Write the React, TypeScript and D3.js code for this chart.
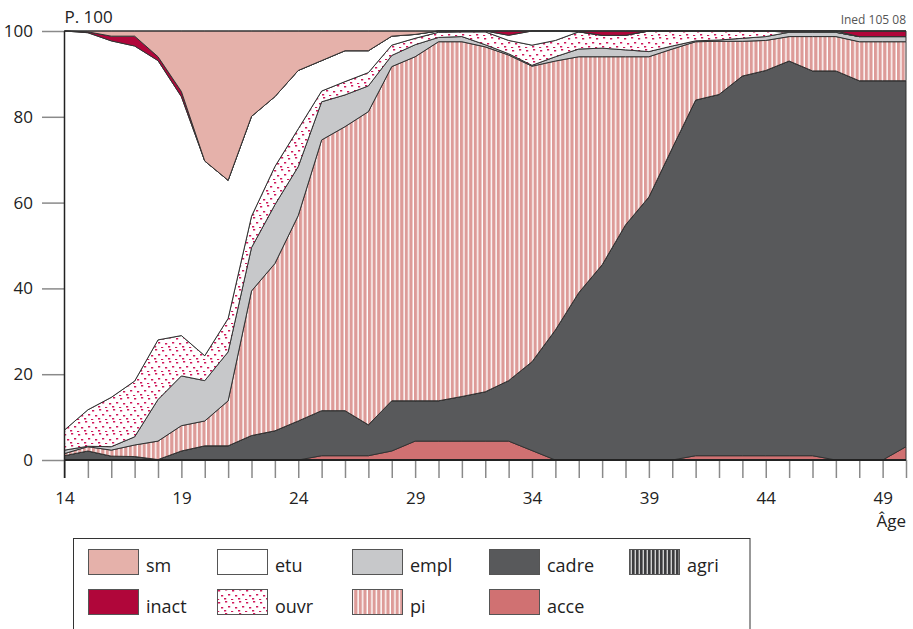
import React, { useEffect, useRef } from 'react';
import * as d3 from 'd3';

// ages 14..50, one point per year
const ages = [14, 15, 16, 17, 18, 19, 20, 21, 22, 23, 24, 25, 26, 27, 28, 29, 30, 31, 32,
  33, 34, 35, 36, 37, 38, 39, 40, 41, 42, 43, 44, 45, 46, 47, 48, 49, 50];

// shares (%) per age, stacked bottom -> top in this order
const acce = [0, 0, 0, 0, 0, 0, 0, 0, 0, 0, 0, 1.0, 1.0, 1.0, 2.1, 4.4, 4.4, 4.4, 4.4,
  4.4, 2.2, 0, 0, 0, 0, 0, 0, 1.0, 1.0, 1.0, 1.0, 1.0, 1.0, 0, 0, 0, 3.1];
const cadre = [1.0, 2.1, 0.9, 0.8, 0.1, 2.1, 3.3, 3.3, 5.7, 6.8, 9.1, 10.5, 10.5, 7.2, 11.7, 9.4, 9.4, 10.4, 11.5,
  14.1, 20.7, 30.3, 39.0, 45.5, 54.8, 61.3, 72.7, 82.9, 84.2, 88.5, 89.8, 92.0, 89.7, 90.7, 88.4, 88.4, 85.3];
const agri = [0, 0, 0, 0, 0, 0, 0, 0, 0, 0, 0, 0, 0, 0, 0, 0, 0, 0, 0,
  0, 0, 0, 0, 0, 0, 0, 0, 0, 0, 0, 0, 0, 0, 0, 0, 0, 0];
const pi = [0.5, 1.0, 1.4, 2.7, 4.3, 5.9, 5.8, 10.5, 33.7, 39.0, 47.9, 63.1, 66.2, 73.0, 77.9, 80.2, 83.7, 82.7, 80.4,
  75.9, 68.9, 62.7, 55.0, 48.5, 39.2, 32.7, 23.1, 13.6, 12.4, 8.1, 7.0, 5.7, 8.0, 8.0, 9.1, 9.1, 9.1];
const empl = [0.8, 0.1, 0.8, 1.9, 9.7, 11.6, 9.4, 11.4, 10.1, 13.7, 11.4, 8.9, 7.4, 6.0, 2.6, 2.8, 1.0, 1.2, 0.5,
  0.3, 0.2, 1.0, 1.8, 2.0, 1.6, 1.2, 0.7, 0.2, 0.3, 0.7, 0.9, 1.0, 1.0, 1.0, 1.2, 1.2, 1.2];
const ouvr = [4.7, 8.5, 11.5, 13.0, 13.9, 9.4, 5.8, 7.8, 7.3, 8.9, 8.8, 2.5, 3.1, 3.1, 2.4, 1.5, 1.2, 1.1, 3.0,
  3.1, 4.7, 3.8, 4.0, 3.0, 3.4, 4.8, 3.5, 2.3, 2.1, 1.7, 1.3, 0, 0, 0, 0, 0, 0];
const etu = [93.0, 87.9, 83.1, 78.1, 65.1, 55.7, 45.4, 32.2, 23.3, 16.3, 13.6, 7.1, 7.2, 5.1, 2.1, 0.9, 0.3, 0.2, 0.2,
  1.2, 3.3, 2.2, 0, 0, 0, 0, 0, 0, 0, 0, 0, 0.3, 0.3, 0.3, 0, 0, 0];
const inact = [0, 0.2, 1.1, 2.3, 0.9, 1.2, 0, 0, 0, 0, 0, 0, 0, 0, 0, 0, 0, 0, 0,
  1.0, 0, 0, 0.2, 1.0, 1.0, 0, 0, 0, 0, 0, 0, 0, 0, 0, 1.3, 1.3, 1.3];
const sm = [0, 0.2, 1.2, 1.2, 6.0, 14.1, 30.3, 34.8, 19.9, 15.3, 9.2, 6.9, 4.6, 4.6, 1.2, 0.8, 0, 0, 0,
  0, 0, 0, 0, 0, 0, 0, 0, 0, 0, 0, 0, 0, 0, 0, 0, 0, 0];

const keys = ['acce', 'cadre', 'agri', 'pi', 'empl', 'ouvr', 'etu', 'inact', 'sm'];
const seriesValues = { acce, cadre, agri, pi, empl, ouvr, etu, inact, sm };

const xTickLabels = [14, 19, 24, 29, 34, 39, 44, 49];
const yTicks = [0, 20, 40, 60, 80, 100];

// legend layout: two rows
const legendRow1 = ['sm', 'etu', 'empl', 'cadre', 'agri'];
const legendRow2 = ['inact', 'ouvr', 'pi', 'acce'];

const fills = {
  acce: '#d07172',
  cadre: '#58595b',
  agri: 'url(#pat-agri)',
  pi: 'url(#pat-pi)',
  empl: '#c7c8ca',
  ouvr: 'url(#pat-ouvr)',
  etu: '#ffffff',
  inact: '#b0063a',
  sm: '#e5b1aa',
};

const FONT = '"Open Sans", "Noto Sans", sans-serif';

const App = () => {
  const svgRef = useRef(null);

  useEffect(() => {
    const svg = d3.select(svgRef.current);
    svg.selectAll('*').remove();

    const x = d3.scaleLinear().domain([14, 50]).range([64.5, 906]);
    const y = d3.scaleLinear().domain([0, 100]).range([460, 31]);

    // patterns
    const defs = svg.append('defs');
    const pPi = defs.append('pattern').attr('id', 'pat-pi')
      .attr('patternUnits', 'userSpaceOnUse').attr('width', 4.6).attr('height', 10);
    pPi.append('rect').attr('width', 4.6).attr('height', 10).attr('fill', '#fff');
    pPi.append('rect').attr('width', 3.2).attr('height', 10).attr('fill', '#dd9b98');

    const pAgri = defs.append('pattern').attr('id', 'pat-agri')
      .attr('patternUnits', 'userSpaceOnUse').attr('width', 4).attr('height', 10);
    pAgri.append('rect').attr('width', 4).attr('height', 10).attr('fill', '#d0d0d0');
    pAgri.append('rect').attr('width', 2.6).attr('height', 10).attr('fill', '#3c3c3e');

    const pOuvr = defs.append('pattern').attr('id', 'pat-ouvr')
      .attr('patternUnits', 'userSpaceOnUse').attr('width', 14).attr('height', 12);
    pOuvr.append('rect').attr('width', 14).attr('height', 12).attr('fill', '#fff');
    [[1, 1], [8, 2], [4, 6], [11, 7], [0, 10], [7, 11]].forEach(([dx, dy]) => {
      pOuvr.append('rect').attr('x', dx).attr('y', dy).attr('width', 2.2).attr('height', 1.5)
        .attr('fill', '#d0185a');
    });

    // stacked areas
    const table = ages.map((a, i) => {
      const row = { age: a };
      keys.forEach(k => { row[k] = seriesValues[k][i]; });
      return row;
    });
    const stacked = d3.stack().keys(keys)(table);

    const area = d3.area()
      .x(d => x(d.data.age))
      .y0(d => y(d[0]))
      .y1(d => y(d[1]));

    svg.append('g')
      .selectAll('path')
      .data(stacked)
      .enter()
      .append('path')
      .attr('d', area)
      .attr('fill', d => fills[d.key])
      .attr('stroke', '#333')
      .attr('stroke-width', 1)
      .attr('stroke-linejoin', 'round');

    // y axis
    const yAxis = svg.append('g')
      .attr('transform', `translate(${x(14)},0)`)
      .call(d3.axisLeft(y).tickValues(yTicks).tickSize(22.5).tickPadding(9));
    yAxis.select('.domain').remove();
    yAxis.selectAll('line').attr('stroke', '#8a8a8a').attr('stroke-width', 1.5);
    yAxis.selectAll('text').attr('font-family', FONT).attr('font-size', 17).attr('fill', '#222');

    // x axis
    const xAxis = svg.append('g')
      .attr('transform', `translate(0,${y(0)})`)
      .call(d3.axisBottom(x).tickValues(ages).tickSize(18).tickPadding(13.5)
        .tickFormat(d => (xTickLabels.includes(d) ? String(d) : '')));
    xAxis.select('.domain').remove();
    xAxis.selectAll('line').attr('stroke', '#8a8a8a').attr('stroke-width', 1.5);
    xAxis.selectAll('text').attr('font-family', FONT).attr('font-size', 17).attr('fill', '#222');

    // frame lines
    svg.append('line').attr('x1', x(14)).attr('x2', x(50)).attr('y1', y(100)).attr('y2', y(100))
      .attr('stroke', '#333').attr('stroke-width', 1.2);
    svg.append('line').attr('x1', x(14)).attr('x2', x(50)).attr('y1', y(0)).attr('y2', y(0))
      .attr('stroke', '#222').attr('stroke-width', 2);
    svg.append('line').attr('x1', x(14)).attr('x2', x(14)).attr('y1', y(100)).attr('y2', y(0) + 18)
      .attr('stroke', '#222').attr('stroke-width', 1.5);

    // titles
    svg.append('text').attr('x', x(14)).attr('y', 23).attr('font-family', FONT)
      .attr('font-size', 17).attr('fill', '#222').text('P. 100');
    svg.append('text').attr('x', 906).attr('y', 527).attr('text-anchor', 'end')
      .attr('font-family', FONT).attr('font-size', 17).attr('fill', '#222').text('Âge');
    svg.append('text').attr('x', 906).attr('y', 24).attr('text-anchor', 'end')
      .attr('font-family', FONT).attr('font-size', 12).attr('fill', '#555').text('Ined 105 08');

    // legend
    const legend = svg.append('g');
    legend.append('rect').attr('x', 73.5).attr('y', 538.5).attr('width', 676.5).attr('height', 130)
      .attr('fill', 'none').attr('stroke', '#333').attr('stroke-width', 1);
    const colX = [88, 217, 352, 489, 629];
    [legendRow1, legendRow2].forEach((row, r) => {
      row.forEach((k, c) => {
        const gx = colX[c];
        const gy = r === 0 ? 549.5 : 589.5;
        legend.append('rect').attr('x', gx + 0.5).attr('y', gy).attr('width', 50).attr('height', 25)
          .attr('fill', fills[k]).attr('stroke', '#555').attr('stroke-width', 1);
        legend.append('text').attr('x', gx + 58).attr('y', r === 0 ? 572 : 613)
          .attr('font-family', FONT).attr('font-size', 18).attr('fill', '#222').text(k);
      });
    });
  }, []);

  return (
    <svg ref={svgRef} width={913} height={629}
      style={{ position: 'absolute', left: 0, top: 0, background: '#fff' }} />
  );
};

export default App;
